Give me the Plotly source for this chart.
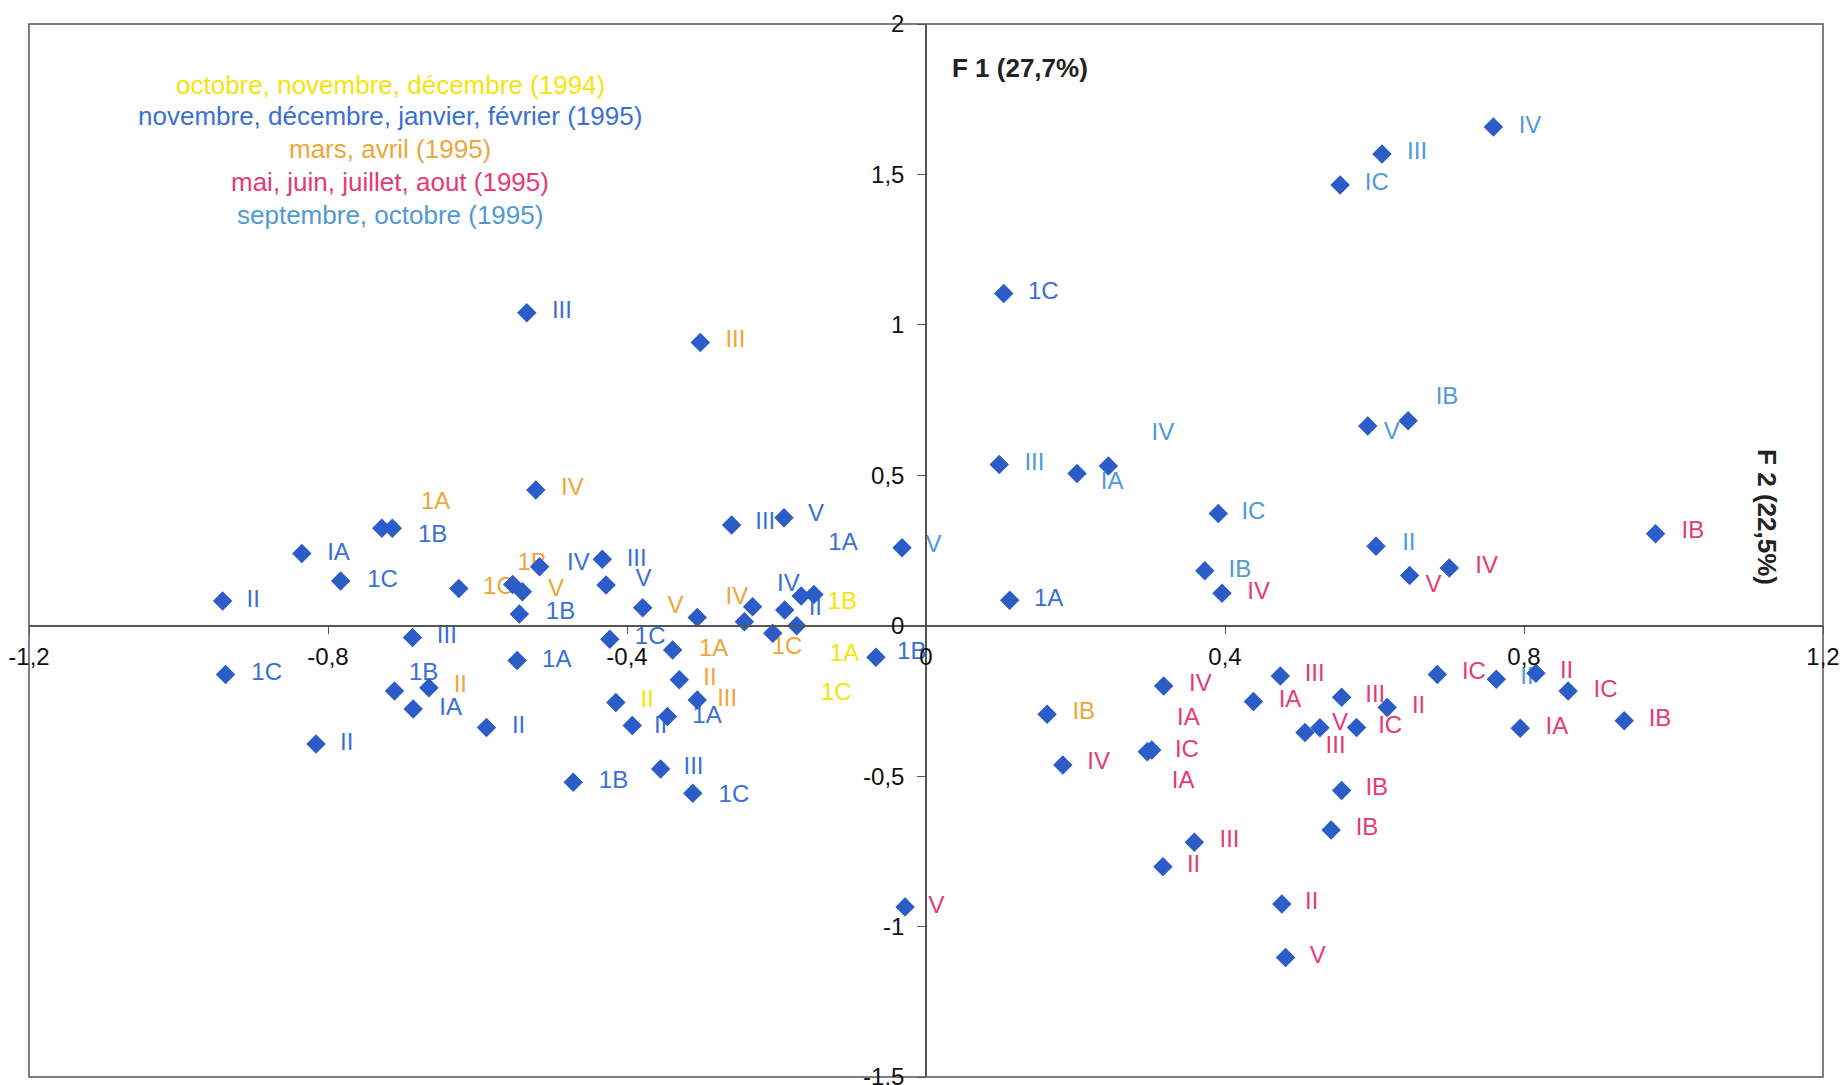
import plotly.graph_objects as go

# ---- marker positions (F1, F2) ----
point_x = [-0.941, -0.937, -0.835, -0.816, -0.783, -0.728, -0.714, -0.711, -0.687, -0.686,
           -0.665, -0.625, -0.588, -0.553, -0.547, -0.544, -0.540, -0.534, -0.522, -0.517,
           -0.472, -0.433, -0.428, -0.423, -0.415, -0.393, -0.379, -0.355, -0.346, -0.339,
           -0.330, -0.312, -0.306, -0.306, -0.302, -0.260, -0.243, -0.232, -0.205, -0.190,
           -0.189, -0.173, -0.167, -0.150, -0.067, -0.032, -0.028,
           0.104, 0.098, 0.202, 0.244, 0.391, 0.373, 0.396, 0.112, 0.759, 0.610,
           0.554, 0.645, 0.591, 0.602, 0.647, 0.700, 0.976, 0.318, 0.162, 0.296,
           0.302, 0.183, 0.474, 0.438, 0.556, 0.617, 0.507, 0.527, 0.576, 0.556,
           0.542, 0.359, 0.317, 0.476, 0.481, 0.684, 0.763, 0.816, 0.859, 0.795, 0.934]
point_y = [0.082, -0.162, 0.240, -0.393, 0.149, 0.324, 0.324, -0.217, -0.039, -0.277,
           -0.206, 0.124, -0.338, 0.137, -0.116, 0.039, 0.113, 1.040, 0.451, 0.196,
           -0.520, 0.221, 0.135, -0.045, -0.255, -0.332, 0.060, -0.476, -0.302, -0.081,
           -0.180, -0.557, 0.027, -0.247, 0.941, 0.335, 0.013, 0.063, -0.025, 0.359,
           0.052, 0.000, 0.099, 0.104, -0.105, 0.259, -0.935,
           1.104, 0.536, 0.506, 0.531, 0.373, 0.183, 0.108, 0.085, 1.658, 1.568,
           1.465, 0.681, 0.664, 0.264, 0.167, 0.192, 0.306, -0.200, -0.294, -0.419,
           -0.413, -0.463, -0.167, -0.252, -0.238, -0.272, -0.355, -0.339, -0.338, -0.548,
           -0.679, -0.720, -0.801, -0.925, -1.103, -0.162, -0.178, -0.158, -0.217, -0.341, -0.316]

# ---- labels per period ----
# octobre, novembre, decembre (1994)
oct94_x = [-0.373, -0.112, -0.109, -0.120]
oct94_y = [-0.250, 0.074, -0.097, -0.227]
oct94_text = ["II", "1B", "1A", "1C"]

# novembre, decembre, janvier, fevrier (1995)
nov95_x = [-0.900, -0.882, -0.786, -0.727, -0.660, -0.641, -0.672, -0.636, -0.775, -0.465,
           -0.387, -0.378, -0.489, -0.369, -0.494, -0.293, -0.355, -0.545, -0.311, -0.418,
           -0.257, -0.487, -0.215, -0.147, -0.111, -0.184, -0.148, -0.019, 0.157, 0.164]
nov95_y = [0.082, -0.162, 0.240, 0.149, 0.299, -0.036, -0.160, -0.278, -0.393, 0.204,
           0.218, 0.152, 0.043, -0.042, -0.116, -0.302, -0.336, -0.336, -0.472, -0.518,
           -0.565, 1.043, 0.340, 0.368, 0.271, 0.135, 0.054, -0.092, 1.106, 0.085]
nov95_text = ["II", "1C", "IA", "1C", "1B", "III", "1B", "IA", "II", "IV",
              "III", "V", "1B", "1C", "1A", "1A", "II", "II", "III", "1B",
              "1C", "III", "III", "V", "1A", "IV", "II", "1B", "1C", "1A"]

# mars, avril (1995)
mar95_x = [-0.656, -0.623, -0.572, -0.527, -0.495, -0.473, -0.335, -0.284, -0.289, -0.266,
           -0.255, -0.253, -0.186, 0.211]
mar95_y = [0.407, -0.200, 0.124, 0.204, 0.119, 0.453, 0.063, -0.081, -0.178, -0.247,
           0.947, 0.091, -0.075, -0.291]
mar95_text = ["1A", "II", "1C", "1B", "V", "IV", "V", "1A", "II", "III",
              "III", "IV", "1C", "IB"]

# mai, juin, juillet, aout (1995)
mai95_x = [0.014, 0.445, 0.679, 0.750, 1.026, 0.367, 0.351, 0.349, 0.344, 0.231,
           0.520, 0.487, 0.601, 0.554, 0.548, 0.621, 0.603, 0.590, 0.406, 0.358,
           0.516, 0.524, 0.659, 0.733, 0.857, 0.909, 0.844, 0.982]
mai95_y = [-0.935, 0.108, 0.132, 0.195, 0.310, -0.197, -0.311, -0.415, -0.518, -0.457,
           -0.164, -0.250, -0.234, -0.328, -0.402, -0.336, -0.544, -0.677, -0.715, -0.797,
           -0.922, -1.100, -0.269, -0.158, -0.153, -0.216, -0.341, -0.313]
mai95_text = ["V", "IV", "V", "IV", "IB", "IV", "IA", "IC", "IA", "IV",
              "III", "IA", "III", "V", "III", "IC", "IB", "IB", "III", "II",
              "II", "V", "II", "IC", "II", "IC", "IA", "IB"]

# septembre, octobre (1995)
sep95_x = [0.010, 0.145, 0.249, 0.317, 0.438, 0.420, 0.808, 0.657, 0.603, 0.697,
           0.623, 0.646, 0.804]
sep95_y = [0.265, 0.539, 0.473, 0.637, 0.375, 0.183, 1.659, 1.570, 1.468, 0.756,
           0.641, 0.270, -0.175]
sep95_text = ["V", "III", "IA", "IV", "IC", "IB", "IV", "III", "IC", "IB",
              "V", "II", "II"]

legend_lines = ["octobre, novembre, décembre (1994)",
                "novembre, décembre, janvier, février (1995)",
                "mars, avril (1995)",
                "mai, juin, juillet, aout (1995)",
                "septembre, octobre (1995)"]
legend_y = [1.798, 1.693, 1.584, 1.474, 1.365]
legend_x = -0.717

x_ticks = [-1.2, -0.8, -0.4, 0, 0.4, 0.8, 1.2]
x_tick_labels = ["-1,2", "-0,8", "-0,4", "0", "0,4", "0,8", "1,2"]
y_ticks = [-1.5, -1, -0.5, 0, 0.5, 1, 1.5, 2]
y_tick_labels = ["-1,5", "-1", "-0,5", "0", "0,5", "1", "1,5", "2"]

COL_OCT94 = "#f4e40c"
COL_NOV95 = "#3a6fd6"
COL_MAR95 = "#f0a53a"
COL_MAI95 = "#e33b76"
COL_SEP95 = "#4f9ad4"
MARKER = "#2b5cc8"
FONT = "Arial, Liberation Sans, sans-serif"
LABEL_SIZE = 24
LEGEND_SIZE = 26
TICK_SIZE = 24

fig = go.Figure()

groups = [
    (oct94_x, oct94_y, oct94_text, COL_OCT94),
    (nov95_x, nov95_y, nov95_text, COL_NOV95),
    (mar95_x, mar95_y, mar95_text, COL_MAR95),
    (mai95_x, mai95_y, mai95_text, COL_MAI95),
    (sep95_x, sep95_y, sep95_text, COL_SEP95),
]
for gx, gy, gt, gc in groups:
    fig.add_trace(go.Scatter(
        x=gx, y=gy, text=gt, mode="text", textposition="middle center",
        textfont=dict(family=FONT, size=LABEL_SIZE, color=gc),
        hoverinfo="skip", showlegend=False, cliponaxis=False))

fig.add_trace(go.Scatter(
    x=point_x, y=point_y, mode="markers",
    marker=dict(symbol="diamond", size=15, color=MARKER, line=dict(width=0)),
    hoverinfo="skip", showlegend=False))

legend_colors = [COL_OCT94, COL_NOV95, COL_MAR95, COL_MAI95, COL_SEP95]
for txt, ly, lc in zip(legend_lines, legend_y, legend_colors):
    fig.add_annotation(x=legend_x, y=ly, xref="x", yref="y", text=txt,
                       showarrow=False, xanchor="center", yanchor="middle",
                       font=dict(family=FONT, size=LEGEND_SIZE, color=lc))

fig.add_annotation(x=0.126, y=1.853, xref="x", yref="y", text="<b>F 1 (27,7%)</b>",
                   showarrow=False, xanchor="center", yanchor="middle",
                   font=dict(family=FONT, size=26, color="#222"))
fig.add_annotation(x=1.126, y=0.362, xref="x", yref="y", text="<b>F 2 (22,5%)</b>",
                   showarrow=False, textangle=90, xanchor="center", yanchor="middle",
                   font=dict(family=FONT, size=26, color="#222"))

# frame
fig.add_shape(type="rect", xref="paper", yref="paper", x0=0, y0=0, x1=1, y1=1,
              line=dict(color="#555", width=1.5), layer="below")

fig.update_layout(
    width=1840, height=1085,
    margin=dict(l=29, r=17, t=24, b=8),
    paper_bgcolor="white", plot_bgcolor="white",
    separators=", ",
    font=dict(family=FONT, size=TICK_SIZE, color="#111"),
    xaxis=dict(range=[-1.2, 1.2], showgrid=False, zeroline=False, showline=True,
               linecolor="#555", linewidth=1.5, anchor="free", position=1.5 / 3.5,
               tickvals=x_ticks, ticktext=x_tick_labels, ticks="outside", ticklen=8,
               tickcolor="#555", tickfont=dict(family=FONT, size=TICK_SIZE, color="#111"),
               ticklabelstandoff=2, ticklabeloverflow="allow",
               automargin=False, fixedrange=True),
    yaxis=dict(range=[-1.5, 2], showgrid=False, zeroline=False, showline=True,
               linecolor="#555", linewidth=1.5, anchor="free", position=0.5,
               tickvals=y_ticks, ticktext=y_tick_labels, ticks="outside", ticklen=8,
               tickcolor="#555", tickfont=dict(family=FONT, size=TICK_SIZE, color="#111"),
               ticklabelstandoff=8, ticklabeloverflow="allow",
               automargin=False, fixedrange=True),
)

fig.write_html("out.html", config={"displayModeBar": False},
               post_script="document.body.style.margin='0';document.body.style.overflow='hidden';")
